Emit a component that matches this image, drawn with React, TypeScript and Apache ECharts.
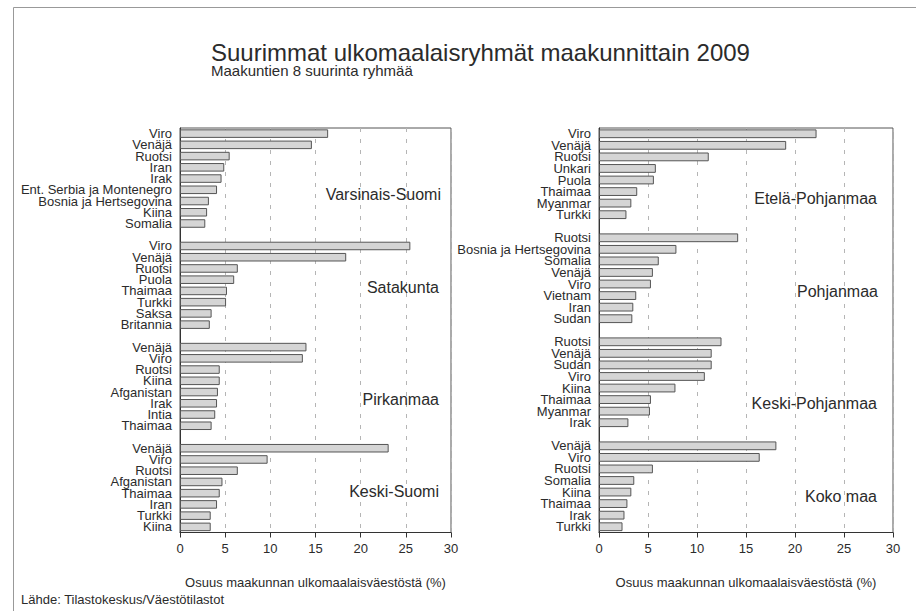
import React, { useEffect, useRef } from "react";
import * as echarts from "echarts";

const titleText = "Suurimmat ulkomaalaisryhmät maakunnittain 2009";
const subtitleText = "Maakuntien 8 suurinta ryhmää";
const sourceText = "Lähde: Tilastokeskus/Väestötilastot";
const axisNameText = "Osuus maakunnan ulkomaalaisväestöstä (%)";

const vsNames = ["Viro", "Venäjä", "Ruotsi", "Iran", "Irak", "Ent. Serbia ja Montenegro", "Bosnia ja Hertsegovina", "Kiina", "Somalia"];
const vsValues = [16.4, 14.6, 5.5, 4.9, 4.6, 4.1, 3.2, 3.0, 2.8];
const skNames = ["Viro", "Venäjä", "Ruotsi", "Puola", "Thaimaa", "Turkki", "Saksa", "Britannia"];
const skValues = [25.5, 18.4, 6.4, 6.0, 5.2, 5.1, 3.5, 3.3];
const piNames = ["Venäjä", "Viro", "Ruotsi", "Kiina", "Afganistan", "Irak", "Intia", "Thaimaa"];
const piValues = [14.0, 13.6, 4.4, 4.4, 4.2, 4.1, 3.9, 3.5];
const ksNames = ["Venäjä", "Viro", "Ruotsi", "Afganistan", "Thaimaa", "Iran", "Turkki", "Kiina"];
const ksValues = [23.1, 9.7, 6.4, 4.7, 4.4, 4.1, 3.4, 3.4];

const epNames = ["Viro", "Venäjä", "Ruotsi", "Unkari", "Puola", "Thaimaa", "Myanmar", "Turkki"];
const epValues = [22.2, 19.1, 11.2, 5.8, 5.6, 3.9, 3.3, 2.8];
const poNames = ["Ruotsi", "Bosnia ja Hertsegovina", "Somalia", "Venäjä", "Viro", "Vietnam", "Iran", "Sudan"];
const poValues = [14.2, 7.9, 6.1, 5.5, 5.3, 3.8, 3.5, 3.4];
const kpNames = ["Ruotsi", "Venäjä", "Sudan", "Viro", "Kiina", "Thaimaa", "Myanmar", "Irak"];
const kpValues = [12.5, 11.5, 11.5, 10.8, 7.8, 5.3, 5.2, 3.0];
const kmNames = ["Venäjä", "Viro", "Ruotsi", "Somalia", "Kiina", "Thaimaa", "Irak", "Turkki"];
const kmValues = [18.1, 16.4, 5.5, 3.6, 3.3, 2.9, 2.6, 2.4];

const leftRegions = ["Varsinais-Suomi", "Satakunta", "Pirkanmaa", "Keski-Suomi"];
const rightRegions = ["Etelä-Pohjanmaa", "Pohjanmaa", "Keski-Pohjanmaa", "Koko maa"];
const xTicks = { min: 0, max: 30, interval: 5 };

const FONT = "'Liberation Sans', Arial, Helvetica, sans-serif";
const TXT = "#2b2b2b";

type Group = { region: string; names: string[]; values: number[] };

function build(groups: Group[]) {
  const cats: string[] = [];
  const vals: (number | string)[] = [];
  groups.forEach((g, gi) => {
    if (gi > 0) {
      cats.push("gap-" + gi);
      vals.push("-");
    }
    g.names.forEach((n, i) => {
      cats.push(g.region + "|" + n);
      vals.push(g.values[i]);
    });
  });
  return { cats, vals };
}

export default function App() {
  const ref = useRef<HTMLDivElement>(null);
  useEffect(() => {
    if (!ref.current) return;
    const chart = echarts.init(ref.current, null, { renderer: "svg" });
    const left = build([
      { region: leftRegions[0], names: vsNames, values: vsValues },
      { region: leftRegions[1], names: skNames, values: skValues },
      { region: leftRegions[2], names: piNames, values: piValues },
      { region: leftRegions[3], names: ksNames, values: ksValues },
    ]);
    const right = build([
      { region: rightRegions[0], names: epNames, values: epValues },
      { region: rightRegions[1], names: poNames, values: poValues },
      { region: rightRegions[2], names: kpNames, values: kpValues },
      { region: rightRegions[3], names: kmNames, values: kmValues },
    ]);

    const xAxisBase = (gridIndex: number) => ({
      type: "value",
      gridIndex,
      min: xTicks.min,
      max: xTicks.max,
      interval: xTicks.interval,
      name: axisNameText,
      nameLocation: "middle",
      nameGap: 43,
      nameTextStyle: { fontFamily: FONT, fontSize: 13, color: TXT },
      axisLine: { show: true, lineStyle: { color: "#333", width: 1 } },
      axisTick: { show: true, length: 5, lineStyle: { color: "#333" } },
      axisLabel: { fontFamily: FONT, fontSize: 13, color: TXT, margin: 9 },
      splitLine: { show: true, lineStyle: { color: "#b5b5b5", type: [4, 7], width: 1 } },
    });

    const yAxisBase = (gridIndex: number, cats: string[]) => ({
      type: "category",
      gridIndex,
      data: cats,
      inverse: true,
      axisLine: { show: true, lineStyle: { color: "#333", width: 1 } },
      axisTick: { show: false },
      splitLine: { show: false },
      axisLabel: {
        interval: 0,
        fontFamily: FONT,
        fontSize: 13,
        lineHeight: 11,
        color: TXT,
        margin: 8,
        formatter: (v: string) => (v.indexOf("|") >= 0 ? v.split("|")[1] : ""),
      },
    });

    const barStyle = {
      type: "bar",
      barCategoryGap: "24%",
      itemStyle: { color: "#d5d5d5", borderColor: "#555", borderWidth: 1 },
      silent: true,
    };

    const regionText = (text: string, x: number, y: number) => ({
      type: "text",
      x,
      y,
      style: {
        text,
        fontFamily: FONT,
        fontSize: 16,
        fill: TXT,
        align: "right",
        verticalAlign: "middle",
      },
      z: 10,
    });

    chart.setOption({
      animation: false,
      backgroundColor: "#ffffff",
      grid: [
        { left: 180, top: 128, width: 271, height: 404.5, show: true, borderColor: "#555", borderWidth: 1, backgroundColor: "transparent" },
        { left: 599, top: 128, width: 294, height: 404.5, show: true, borderColor: "#555", borderWidth: 1, backgroundColor: "transparent" },
      ],
      xAxis: [xAxisBase(0), xAxisBase(1)],
      yAxis: [yAxisBase(0, left.cats), yAxisBase(1, right.cats)],
      series: [
        { ...barStyle, xAxisIndex: 0, yAxisIndex: 0, data: left.vals },
        { ...barStyle, xAxisIndex: 1, yAxisIndex: 1, data: right.vals },
      ],
      graphic: [
        {
          type: "rect",
          shape: { x: 13.5, y: 7.5, width: 1000, height: 1000 },
          style: { fill: "none", stroke: "#999", lineWidth: 1 },
          silent: true,
        },
        {
          type: "text",
          x: 211,
          y: 52,
          style: { text: titleText, fontFamily: FONT, fontSize: 24, lineHeight: 20, fill: TXT, verticalAlign: "middle" },
        },
        {
          type: "text",
          x: 211,
          y: 70,
          style: { text: subtitleText, fontFamily: FONT, fontSize: 15, lineHeight: 14, fill: TXT, verticalAlign: "middle" },
        },
        {
          type: "text",
          x: 21,
          y: 599,
          style: { text: sourceText, fontFamily: FONT, fontSize: 13, fill: TXT, verticalAlign: "middle" },
        },
        regionText(leftRegions[0], 441, 194),
        regionText(leftRegions[1], 439, 287),
        regionText(leftRegions[2], 439, 399),
        regionText(leftRegions[3], 439, 491),
        regionText(rightRegions[0], 877, 198),
        regionText(rightRegions[1], 878, 291),
        regionText(rightRegions[2], 877, 403),
        regionText(rightRegions[3], 877, 496),
      ],
    });
    return () => chart.dispose();
  }, []);
  return (
    <div
      ref={ref}
      style={{ position: "absolute", left: 0, top: 0, width: 916, height: 611, background: "#fff" }}
    />
  );
}
